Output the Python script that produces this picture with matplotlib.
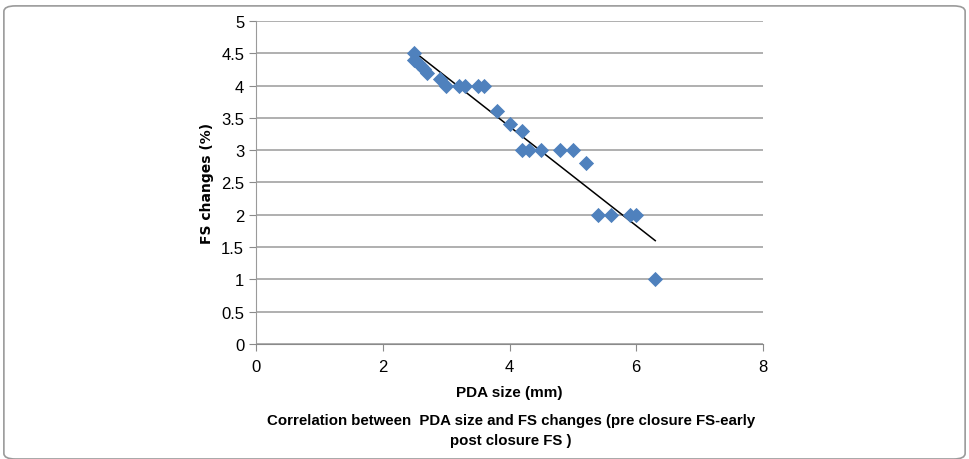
import matplotlib.pyplot as plt
import numpy as np
from matplotlib.patches import FancyBboxPatch

plt.rcParams['font.family'] = ['Liberation Sans', 'DejaVu Sans']

# PDA size (mm) vs FS changes (%)
pda_size = [2.5, 2.5, 2.55, 2.6, 2.65, 2.7, 2.9, 3.0, 3.2, 3.3, 3.5, 3.6,
            3.8, 4.0, 4.2, 4.2, 4.3, 4.5, 4.8, 5.0, 5.2, 5.4, 5.6, 5.9, 6.0, 6.3]
fs_change = [4.5, 4.4, 4.35, 4.3, 4.25, 4.2, 4.1, 4.0, 4.0, 4.0, 4.0, 4.0,
             3.6, 3.4, 3.3, 3.0, 3.0, 3.0, 3.0, 3.0, 2.8, 2.0, 2.0, 2.0, 2.0, 1.0]

# trendline end points as drawn in the chart
trend_x = [2.5, 6.3]
trend_y = [4.52, 1.6]

x_ticks = [0, 2, 4, 6, 8]
y_ticks = [0, 0.5, 1, 1.5, 2, 2.5, 3, 3.5, 4, 4.5, 5]

fig = plt.figure(figsize=(9.69, 4.6), dpi=100)
ax = fig.add_axes([0.2642, 0.25, 0.5232, 0.7022])

ax.plot(trend_x, trend_y, color='black', lw=1.1, zorder=2)
ax.scatter(pda_size, fs_change, marker='D', s=60, color='#4F81BD', zorder=3, linewidths=0)

ax.set_xlim(0, 8)
ax.set_ylim(0, 5)
ax.set_xticks(x_ticks)
ax.set_yticks(y_ticks)
ax.set_yticklabels([f'{v:g}' for v in y_ticks])
ax.grid(axis='y', color='#9a9a9a', lw=1.1)
ax.set_axisbelow(True)

for s in ['top', 'right']:
    ax.spines[s].set_visible(False)
ax.spines['left'].set_color('#9a9a9a')
ax.spines['bottom'].set_color('#8a8a8a')
ax.tick_params(axis='both', colors='#8a8a8a', labelcolor='black', length=5, labelsize=12)
ax.tick_params(axis='x', pad=6)

ax.set_xlabel('PDA size (mm)', fontsize=11, fontweight='bold', labelpad=8)
ax.set_ylabel('FS changes (%)', fontsize=10, fontweight='bold', family='DejaVu Sans', labelpad=5)

fig.text(0.527, 0.063, 'Correlation between  PDA size and FS changes (pre closure FS-early\npost closure FS )',
         ha='center', va='center', fontsize=10.8, fontweight='bold', linespacing=1.6)

border = FancyBboxPatch((0.004, 0.0), 0.992, 0.985, boxstyle='round,pad=0,rounding_size=0.012',
                        transform=fig.transFigure, fill=False, edgecolor='#9a9a9a', lw=1.2)
fig.patches.append(border)

fig.savefig('out.png', dpi=100)
